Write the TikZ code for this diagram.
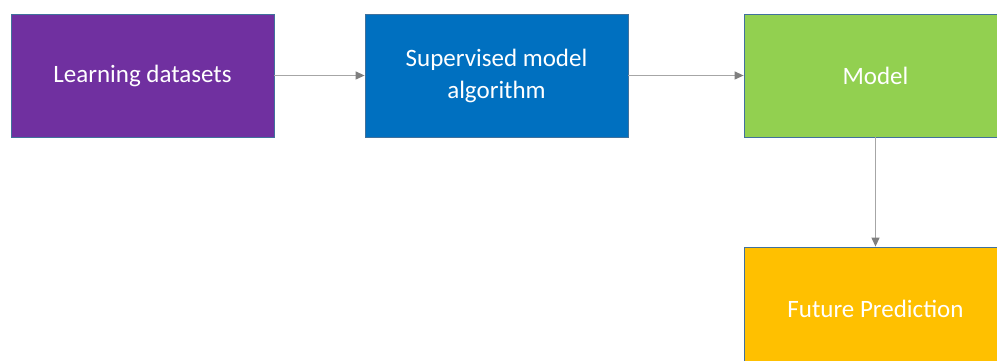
\documentclass[tikz,border=0pt]{standalone}
\usepackage{fontspec}
\setmainfont{Carlito}
\usetikzlibrary{arrows.meta}
\definecolor{purplebox}{HTML}{7030A0}
\definecolor{bluebox}{HTML}{0070C0}
\definecolor{greenbox}{HTML}{92D050}
\definecolor{orangebox}{HTML}{FFC000}
\definecolor{edgeblue}{HTML}{41719C}
\definecolor{linkgray}{HTML}{A6A6A6}
\definecolor{tipgray}{HTML}{7F7F7F}
\tikzset{
  stage/.style={draw=edgeblue, line width=0.8pt, minimum width=263pt, minimum height=123pt,
    inner sep=0pt, text=white, align=center, font=\fontsize{25}{32}\selectfont},
  link/.style={draw=linkgray, line width=1.2pt, -{Triangle[length=9pt,width=8pt,fill=tipgray,color=tipgray]}}
}
\begin{document}
\begin{tikzpicture}[x=1pt,y=1pt]
  \useasboundingbox (0,0) rectangle (997,361);
  \clip (0,0) rectangle (997,361);
  \node[stage, fill=purplebox] (learn) at (142.5,285.5) {Learning datasets};
  \node[stage, fill=bluebox] (algo) at (496.5,285.5) {Supervised model\\algorithm};
  \node[stage, fill=greenbox] (model) at (875.5,285.5) {Model};
  \node[stage, fill=orangebox] (future) at (875.5,52.5) {Future Prediction};
  \draw[link] (learn) -- (algo);
  \draw[link] (algo) -- (model);
  \draw[link] (model) -- (future);
\end{tikzpicture}
\end{document}
